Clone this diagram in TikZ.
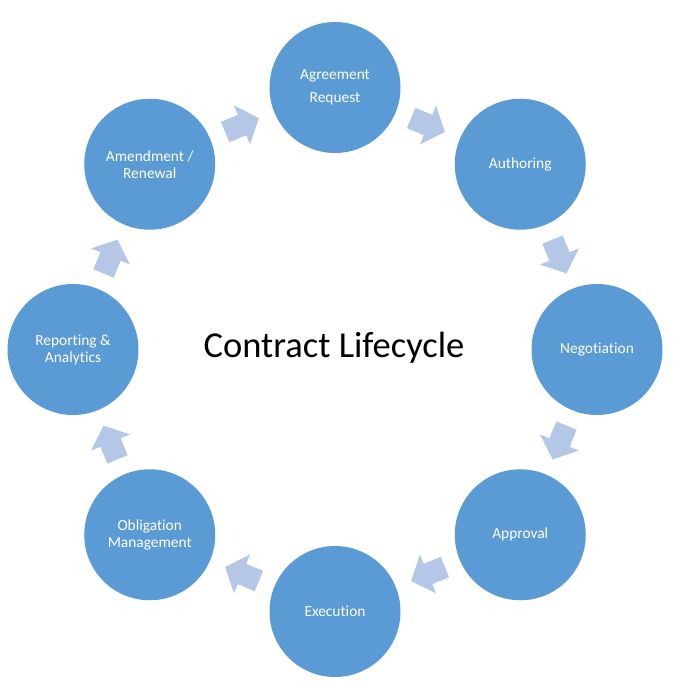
\documentclass[tikz,border=0pt]{standalone}
\usepackage{fontspec}
\setmainfont{Carlito}[RawFeature={-liga}]
\definecolor{circblue}{HTML}{5B9BD5}
\definecolor{arrblue}{HTML}{B4C7E7}
\begin{document}
\begin{tikzpicture}[x=1pt,y=1pt,
  stage/.style={circle, fill=circblue, minimum size=131pt, inner sep=0pt,
    text=white, align=center, font=\fontsize{15.4}{17}\selectfont},
  cyc/.pic={\fill[arrblue] (-18.3,-11) -- (0,-11) -- (0,-21) -- (18.3,0)
    -- (0,21) -- (0,11) -- (-18.3,11) -- cycle;}]
\useasboundingbox (0,0) rectangle (694,-693);
\coordinate (c) at (335,-349.5);
\path (c) ++(90:262)   node[stage] (agree) {Agreement\\[6pt]Request};
\path (c) ++(45:262)   node[stage] (auth)  {Authoring};
\path (c) ++(0:262)    node[stage] (nego)  {Negotiation};
\path (c) ++(-45:262)  node[stage] (appr)  {Approval};
\path (c) ++(-90:262)  node[stage] (exec)  {Execution};
\path (c) ++(-135:262) node[stage] (obli)  {Obligation\\Management};
\path (c) ++(180:262)  node[stage] (repo)  {Reporting \&\\Analytics};
\path (c) ++(135:262)  node[stage] (amen)  {Amendment /\\Renewal};
\foreach \a in {112.5,67.5,22.5,-22.5,-67.5,-112.5,-157.5,157.5}{
  \pgfmathsetmacro{\r}{\a-90}
  \path (c) ++(\a:243) pic[rotate=\r] {cyc};
}
\node[font=\fontsize{36.5}{40}\selectfont, anchor=base] (title) at (334,-357) {Contract Lifecycle};
\end{tikzpicture}
\end{document}
